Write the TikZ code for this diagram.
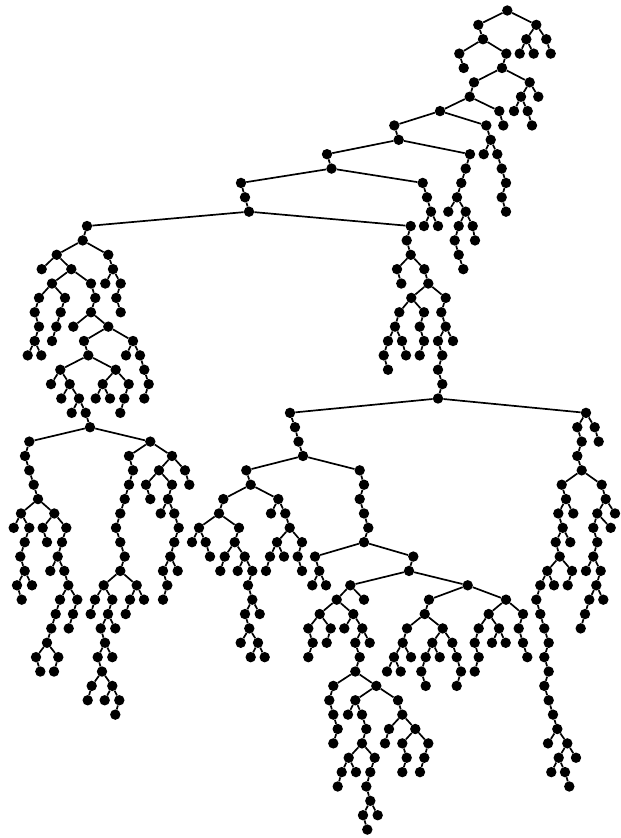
\documentclass[tikz,border=0pt]{standalone}
\tikzset{dot/.style={circle,fill=black,draw=none,inner sep=0pt,minimum size=10.4pt},
  edge/.style={black,line width=1.7pt}}
% \K{level of child}{x of parent, tenths of a unit}{x of child, tenths of a unit}
\newcommand\K[3]{%
  \node[dot] (n#1x#3) at ({#3/10},{10.5+14.37*#1}) {};
  \draw[edge] (n\the\numexpr#1-1\relax x#2) -- (n#1x#3);}
\begin{document}
\begin{tikzpicture}[x=1pt,y=-1pt]
\useasboundingbox (0,0) rectangle (621,838);
\node[dot] (n0x5073) at (507.3,10.5) {};
\K{1}{5073}{4783}\K{1}{5073}{5363}
\K{2}{5363}{5263}\K{2}{5363}{5463}\K{2}{4783}{4830}
\K{3}{5263}{5197}\K{3}{5263}{5337}\K{3}{5463}{5507}\K{3}{4830}{4593}\K{3}{4830}{5063}
\K{4}{4593}{4637}\K{4}{5063}{5020}
\K{5}{5020}{4740}\K{5}{5020}{5297}
\K{6}{5297}{5210}\K{6}{5297}{5383}\K{6}{4740}{4697}
\K{7}{5210}{5140}\K{7}{5210}{5277}\K{7}{4697}{4400}\K{7}{4697}{4993}
\K{8}{5277}{5320}\K{8}{4993}{5033}\K{8}{4400}{3943}\K{8}{4400}{4863}
\K{9}{4863}{4907}\K{9}{3943}{3987}
\K{10}{4907}{4837}\K{10}{4907}{4973}\K{10}{3987}{3270}\K{10}{3987}{4700}
\K{11}{4973}{5017}\K{11}{4700}{4657}\K{11}{3270}{3315}
\K{12}{5017}{5060}\K{12}{4657}{4613}\K{12}{3315}{2410}\K{12}{3315}{4227}
\K{13}{5060}{5017}\K{13}{4613}{4570}\K{13}{2410}{2450}\K{13}{4227}{4270}
\K{14}{5017}{5060}\K{14}{4570}{4483}\K{14}{4570}{4657}\K{14}{2450}{2490}\K{14}{4270}{4310}
\K{15}{4657}{4587}\K{15}{4657}{4727}\K{15}{2490}{870}\K{15}{2490}{4107}\K{15}{4310}{4240}\K{15}{4310}{4380}
\K{16}{4587}{4547}\K{16}{4727}{4750}
\K{17}{4547}{4587}\K{18}{4587}{4633}
% left main subtree
\K{16}{870}{827}
\K{17}{827}{567}\K{17}{827}{1083}
\K{18}{1083}{1130}\K{19}{1130}{1053}\K{19}{1130}{1207}\K{20}{1207}{1163}\K{21}{1163}{1207}
\K{18}{567}{417}\K{18}{567}{713}
\K{19}{713}{520}\K{19}{713}{910}
\K{20}{520}{390}\K{20}{520}{650}
\K{21}{390}{347}\K{22}{347}{390}\K{23}{390}{347}\K{24}{347}{277}\K{24}{347}{413}
\K{21}{650}{607}\K{22}{607}{563}\K{23}{563}{520}
\K{20}{910}{953}\K{21}{953}{910}
\K{22}{910}{733}\K{22}{910}{1083}
\K{23}{1083}{840}\K{23}{1083}{1330}
\K{24}{1330}{1260}\K{24}{1330}{1400}\K{25}{1400}{1443}\K{26}{1443}{1487}\K{27}{1487}{1443}
\K{24}{840}{883}
\K{25}{883}{603}\K{25}{883}{1157}
\K{26}{1157}{1027}\K{26}{1157}{1287}
\K{27}{1027}{957}\K{27}{1027}{1100}
\K{27}{1287}{1243}\K{28}{1243}{1203}
\K{26}{603}{510}\K{26}{603}{697}
\K{27}{697}{613}\K{27}{697}{790}
\K{28}{790}{717}\K{28}{790}{857}
\K{29}{857}{900}
\K{30}{900}{293}\K{30}{900}{1503}
\K{31}{293}{250}\K{32}{250}{293}\K{33}{293}{337}\K{34}{337}{380}
\K{35}{380}{210}\K{35}{380}{543}
\K{36}{210}{137}\K{36}{210}{293}
\K{37}{293}{247}\K{38}{247}{203}\K{39}{203}{247}
\K{40}{247}{170}\K{40}{247}{320}\K{41}{170}{217}
\K{36}{543}{427}\K{36}{543}{663}
\K{37}{427}{470}
\K{37}{663}{620}\K{38}{620}{577}
\K{39}{577}{503}\K{39}{577}{643}
\K{40}{643}{683}
\K{41}{683}{600}\K{41}{683}{773}
\K{42}{600}{557}\K{43}{557}{513}\K{44}{513}{470}
\K{45}{470}{360}\K{45}{470}{583}
\K{46}{360}{403}\K{46}{583}{540}
\K{42}{773}{730}\K{43}{730}{687}
\K{31}{1503}{1290}\K{31}{1503}{1720}
\K{32}{1290}{1330}\K{33}{1330}{1290}\K{34}{1290}{1247}\K{35}{1247}{1203}\K{36}{1203}{1160}
\K{37}{1160}{1203}\K{38}{1203}{1247}\K{39}{1247}{1203}
\K{40}{1203}{1037}\K{40}{1203}{1367}
\K{41}{1037}{950}\K{41}{1037}{1123}
\K{42}{950}{907}\K{42}{1123}{1080}
\K{43}{1080}{1007}\K{43}{1080}{1153}
\K{44}{1007}{1050}
\K{45}{1050}{977}\K{45}{1050}{1123}
\K{46}{977}{1020}
\K{47}{1020}{917}\K{47}{1020}{1123}
\K{48}{917}{877}\K{48}{1123}{1047}\K{48}{1123}{1193}
\K{49}{1193}{1153}
\K{41}{1367}{1300}\K{41}{1367}{1440}\K{42}{1300}{1257}
\K{32}{1720}{1590}\K{32}{1720}{1850}
\K{33}{1590}{1460}\K{33}{1590}{1720}
\K{34}{1460}{1503}\K{34}{1720}{1680}
\K{35}{1680}{1607}\K{35}{1680}{1743}
\K{36}{1743}{1787}\K{37}{1787}{1743}\K{38}{1743}{1703}
\K{39}{1703}{1630}\K{39}{1703}{1777}
\K{40}{1630}{1673}\K{41}{1673}{1630}
\K{33}{1850}{1893}
% right main subtree
\K{16}{4107}{4067}\K{17}{4067}{4107}
\K{18}{4107}{3970}\K{18}{4107}{4243}
\K{19}{3970}{4013}\K{19}{4243}{4283}
\K{20}{4283}{4113}\K{20}{4283}{4457}
\K{21}{4113}{3993}\K{21}{4113}{4240}
\K{22}{3993}{3950}
\K{23}{3950}{3880}\K{23}{3950}{4020}
\K{24}{3880}{3837}\K{25}{3837}{3880}\K{24}{4020}{4060}
\K{22}{4240}{4197}\K{23}{4197}{4240}\K{24}{4240}{4197}
\K{21}{4457}{4413}\K{22}{4413}{4457}
\K{23}{4457}{4380}\K{23}{4457}{4530}
\K{24}{4380}{4423}\K{25}{4423}{4380}\K{26}{4380}{4423}\K{27}{4423}{4380}
\K{28}{4380}{2900}\K{28}{4380}{5860}
\K{29}{2900}{2950}\K{30}{2950}{2985}\K{31}{2985}{3030}
\K{32}{3030}{2463}\K{32}{3030}{3597}
\K{33}{2463}{2507}
\K{34}{2507}{2233}\K{34}{2507}{2783}
\K{35}{2233}{2190}
\K{36}{2190}{1990}\K{36}{2190}{2390}
\K{37}{1990}{1920}\K{37}{1990}{2057}\K{38}{2057}{2100}
\K{37}{2390}{2347}
\K{38}{2347}{2247}\K{38}{2347}{2447}
\K{39}{2247}{2203}
\K{39}{2447}{2377}\K{39}{2447}{2523}
\K{40}{2523}{2480}\K{41}{2480}{2523}
\K{42}{2523}{2450}\K{42}{2523}{2597}
\K{43}{2450}{2493}
\K{44}{2493}{2407}\K{44}{2493}{2580}
\K{45}{2580}{2507}\K{45}{2580}{2647}
\K{35}{2783}{2710}\K{35}{2783}{2853}
\K{36}{2853}{2897}
\K{37}{2897}{2770}\K{37}{2897}{3020}
\K{38}{2770}{2700}\K{38}{2770}{2840}
\K{39}{2700}{2660}
\K{38}{3020}{2977}\K{39}{2977}{3020}
\K{33}{3597}{3640}\K{34}{3640}{3597}\K{35}{3597}{3640}\K{36}{3640}{3683}\K{37}{3683}{3640}
\K{38}{3640}{3150}\K{38}{3640}{4133}
\K{39}{3150}{3193}\K{40}{3193}{3123}\K{40}{3193}{3260}
\K{39}{4133}{4090}
\K{40}{4090}{3503}\K{40}{4090}{4677}
\K{41}{3503}{3367}\K{41}{3503}{3640}
\K{42}{3367}{3197}\K{42}{3367}{3533}
\K{43}{3197}{3083}\K{43}{3197}{3307}
\K{44}{3083}{3127}\K{45}{3127}{3083}
\K{44}{3307}{3267}
\K{43}{3533}{3443}\K{43}{3533}{3623}
\K{44}{3623}{3553}\K{44}{3623}{3697}
\K{45}{3553}{3597}
\K{46}{3597}{3553}
\K{47}{3553}{3333}\K{47}{3553}{3763}
\K{48}{3333}{3293}\K{49}{3293}{3333}\K{50}{3333}{3377}\K{51}{3377}{3333}
\K{48}{3763}{3553}\K{48}{3763}{3980}
\K{49}{3553}{3480}\K{49}{3553}{3620}
\K{50}{3620}{3663}\K{51}{3663}{3620}
\K{52}{3620}{3487}\K{52}{3620}{3747}
\K{53}{3487}{3417}\K{53}{3487}{3560}\K{54}{3417}{3377}
\K{53}{3747}{3703}\K{54}{3703}{3663}\K{55}{3663}{3703}
\K{56}{3703}{3630}\K{56}{3703}{3777}\K{57}{3630}{3673}
\K{49}{3980}{4023}
\K{50}{4023}{3890}\K{50}{4023}{4153}
\K{51}{3890}{3850}
\K{51}{4153}{4023}\K{51}{4153}{4283}
\K{52}{4023}{4067}\K{53}{4067}{4023}
\K{52}{4283}{4243}\K{53}{4243}{4200}
\K{41}{4677}{4290}\K{41}{4677}{5060}
\K{42}{4290}{4247}
\K{43}{4247}{4070}\K{43}{4247}{4427}
\K{44}{4070}{4027}
\K{45}{4027}{3940}\K{45}{4027}{4110}
\K{46}{3940}{3870}\K{46}{3940}{4007}
\K{44}{4427}{4323}\K{44}{4427}{4523}
\K{45}{4323}{4257}\K{45}{4323}{4397}
\K{46}{4257}{4213}\K{47}{4213}{4257}
\K{45}{4523}{4567}\K{46}{4567}{4610}\K{47}{4610}{4567}
\K{42}{5060}{4887}\K{42}{5060}{5230}
\K{43}{4887}{4787}\K{43}{4887}{4990}
\K{44}{4787}{4747}\K{45}{4747}{4787}\K{46}{4787}{4747}
\K{44}{4990}{4920}\K{44}{4990}{5057}
\K{43}{5230}{5187}\K{44}{5187}{5230}\K{45}{5230}{5273}
\K{29}{5860}{5773}\K{29}{5860}{5947}
\K{30}{5947}{5987}
\K{30}{5773}{5817}\K{31}{5817}{5773}\K{32}{5773}{5817}
\K{33}{5817}{5617}\K{33}{5817}{6017}
\K{34}{5617}{5660}
\K{35}{5660}{5583}\K{35}{5660}{5733}
\K{36}{5583}{5627}
\K{37}{5627}{5557}\K{37}{5627}{5703}
\K{38}{5557}{5597}
\K{39}{5597}{5473}\K{39}{5597}{5720}
\K{40}{5473}{5403}\K{40}{5473}{5540}\K{40}{5720}{5677}
\K{41}{5403}{5363}\K{42}{5363}{5403}\K{43}{5403}{5443}\K{44}{5443}{5487}\K{45}{5487}{5443}
\K{46}{5443}{5487}\K{47}{5487}{5443}\K{48}{5443}{5487}\K{49}{5487}{5530}\K{50}{5530}{5573}
\K{51}{5573}{5480}\K{51}{5573}{5673}
\K{52}{5673}{5587}\K{52}{5673}{5760}
\K{53}{5587}{5513}\K{53}{5587}{5650}\K{54}{5650}{5693}
\K{34}{6017}{6057}
\K{35}{6057}{5973}\K{35}{6057}{6150}
\K{36}{5973}{5933}\K{36}{5973}{6107}
\K{37}{5933}{5973}\K{38}{5973}{5933}
\K{39}{5933}{5860}\K{39}{5933}{6007}
\K{40}{6007}{5963}
\K{41}{5963}{5893}\K{41}{5963}{6033}
\K{42}{5893}{5850}\K{43}{5850}{5807}
\end{tikzpicture}
\end{document}
